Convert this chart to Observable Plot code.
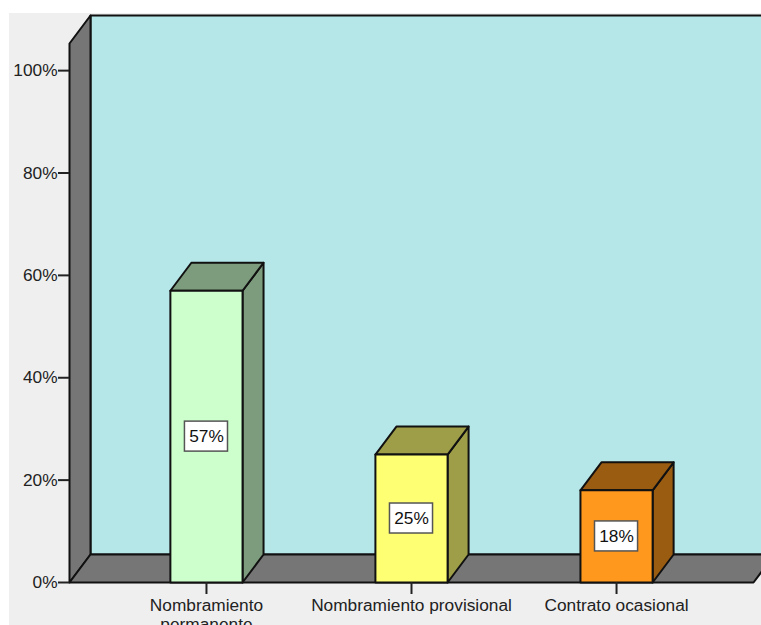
<!DOCTYPE html>
<html>
<head>
<meta charset="utf-8">
<script src="https://cdn.jsdelivr.net/npm/d3@7"></script>
<script src="https://cdn.jsdelivr.net/npm/@observablehq/plot@0.6"></script>
<style>
  html, body { margin: 0; background: #fff; overflow: hidden; }
  #panel { position: absolute; left: 9px; top: 13px; right: 0; bottom: 0; background: #efefef; }
  #chart { position: absolute; left: 0; top: 0; }
  #chart svg { display: block; background: transparent; font-family: "Liberation Sans", Arial, sans-serif; }
</style>
</head>
<body>
<div id="panel"></div>
<div id="chart"></div>
<script>
const categories = ["Nombramiento\npermanente", "Nombramiento provisional", "Contrato ocasional"];
const shares = [57, 25, 18];
const frontColors = ["#ccffcc", "#ffff73", "#ff981c"];
const shadeColors = ["#7d9b7d", "#9e9e48", "#9a5c11"];
const percentTicks = [0, 20, 40, 60, 80, 100];

const wallColor = "#767676";
const backColor = "#b5e7e8";
const outline = "#111";
const labelSize = 17.3;

// Scale extents, and the 3D extrusion expressed in scale units
const xMin = -0.668, xMax = 2.668, yMax = 105.3;
const depthX = 0.1024, depthY = 5.47;
const halfBar = 0.176;
const boxHalfW = 0.105, boxHalfH = 2.93;

// A closed, filled, outlined polygon in data coordinates
const face = (pts, fill) => Plot.line([...pts, pts[0]], {
  x: d => d[0], y: d => d[1], fill, stroke: outline, strokeWidth: 2, strokeLinejoin: "round"
});

// Back wall, left wall and floor of the box
const room = [
  face([[xMin + depthX, depthY], [xMax + depthX, depthY], [xMax + depthX, yMax + depthY], [xMin + depthX, yMax + depthY]], backColor),
  face([[xMin, 0], [xMin, yMax], [xMin + depthX, yMax + depthY], [xMin + depthX, depthY]], wallColor),
  face([[xMin, 0], [xMin + depthX, depthY], [xMax + depthX, depthY], [xMax, 0]], wallColor)
];

// Each bar: right side, top, then the front face
const bars = shares.flatMap((v, i) => {
  const l = i - halfBar, r = i + halfBar;
  return [
    face([[r, 0], [r + depthX, depthY], [r + depthX, v + depthY], [r, v]], shadeColors[i]),
    face([[l, v], [l + depthX, v + depthY], [r + depthX, v + depthY], [r, v]], shadeColors[i]),
    face([[l, 0], [l, v], [r, v], [r, 0]], frontColors[i])
  ];
});

const rows = shares.map((v, i) => ({ i, v }));

const chart = Plot.plot({
  width: 761,
  height: 625,
  marginLeft: 69,
  marginRight: 8,
  marginTop: 43,
  marginBottom: 43,
  x: { domain: [xMin, xMax], axis: null },
  y: { domain: [0, yMax], axis: null },
  style: { background: "transparent" },
  marks: [
    ...room,
    ...bars,
    Plot.rect(rows, {
      x1: d => d.i - boxHalfW, x2: d => d.i + boxHalfW,
      y1: d => d.v / 2 - boxHalfH, y2: d => d.v / 2 + boxHalfH,
      fill: "white", stroke: "#555", strokeWidth: 1.5
    }),
    Plot.text(rows, {
      x: "i", y: d => d.v / 2, text: d => d.v + "%",
      fontSize: labelSize, fill: "#111"
    }),
    Plot.axisY({
      ticks: percentTicks, tickFormat: d => d + "%", tickSize: 11, tickPadding: 1,
      strokeWidth: 2, stroke: "#222", fontSize: labelSize, fill: "#222", label: null
    }),
    Plot.axisX({
      ticks: [0, 1, 2], tickFormat: i => categories[i], tickSize: 12, tickPadding: 3,
      strokeWidth: 2, stroke: "#222", fontSize: labelSize, fill: "#222", label: null, lineHeight: 1.1
    })
  ]
});
document.getElementById("chart").appendChild(chart);
</script>
</body>
</html>
